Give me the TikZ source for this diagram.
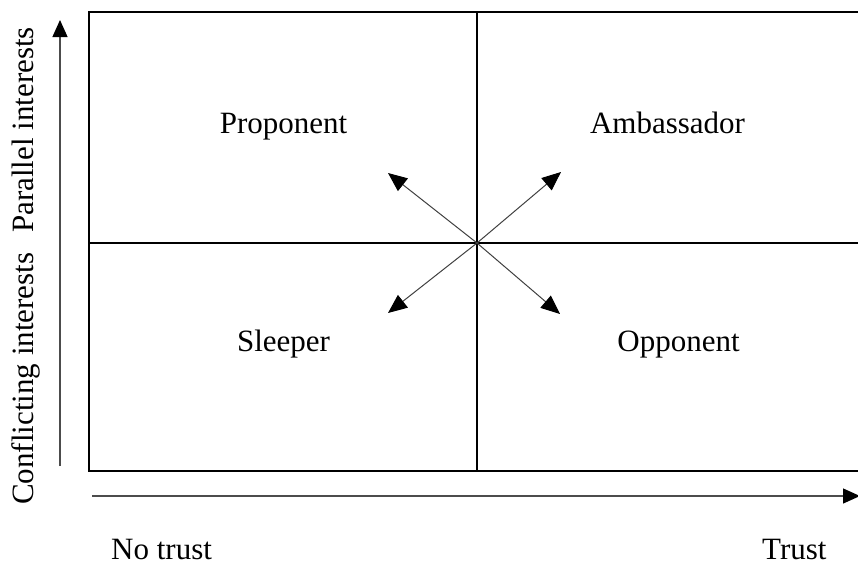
\documentclass[tikz,border=0pt]{standalone}
\usepackage{fontspec}
\setmainfont{Liberation Serif}
\usetikzlibrary{arrows.meta}
\begin{document}
\begin{tikzpicture}[x=1pt,y=-1pt,
  boxline/.style={line width=1.8pt,black},
  axisline/.style={line width=1.3pt,black!70,-{Triangle[length=17pt,width=15pt,black]}},
  diag/.style={line width=1pt,black!75,-{Triangle[length=19pt,width=16pt,black]}},
  lbl/.style={font=\fontsize{31}{36}\selectfont,inner sep=0pt,anchor=base}]
\useasboundingbox (0,0) rectangle (858,565);
% grid
\coordinate (tl) at (89,12);
\coordinate (tr) at (866,12);
\coordinate (bl) at (89,471);
\coordinate (br) at (866,471);
\coordinate (mt) at (477,12);
\coordinate (mb) at (477,471);
\coordinate (ml) at (89,243);
\coordinate (mr) at (866,243);
\coordinate (c) at (477,243);
\draw[boxline] (tr) -- (tl) -- (bl) -- (br);
\draw[boxline] (mt) -- (mb);
\draw[boxline] (ml) -- (mr);
% diagonal arrows
\coordinate (ul) at (388,173);
\coordinate (ur) at (561,172);
\coordinate (ll) at (388,313);
\coordinate (lr) at (560,314);
\draw[diag] (c) -- (ul);
\draw[diag] (c) -- (ur);
\draw[diag] (c) -- (ll);
\draw[diag] (c) -- (lr);
% axes
\coordinate (ya) at (60,466);
\coordinate (yb) at (60,20);
\coordinate (xa) at (92,496);
\coordinate (xb) at (860,496);
\draw[axisline] (ya) -- (yb);
\draw[axisline] (xa) -- (xb);
% labels
\node[lbl] (prop) at (283.5,133) {Proponent};
\node[lbl] (amb) at (667.5,133) {Ambassador};
\node[lbl] (slp) at (283.5,351) {Sleeper};
\node[lbl] (opp) at (678.5,351) {Opponent};
\node[lbl,anchor=base west] (nt) at (111,559) {No trust};
\node[lbl,anchor=base west] (trust) at (762,559) {Trust};
\node[lbl,anchor=base west,rotate=90] (conf) at (33,505) {Conflicting interests};
\node[lbl,anchor=base west,rotate=90] (par) at (33,233) {Parallel interests};
\end{tikzpicture}
\end{document}
